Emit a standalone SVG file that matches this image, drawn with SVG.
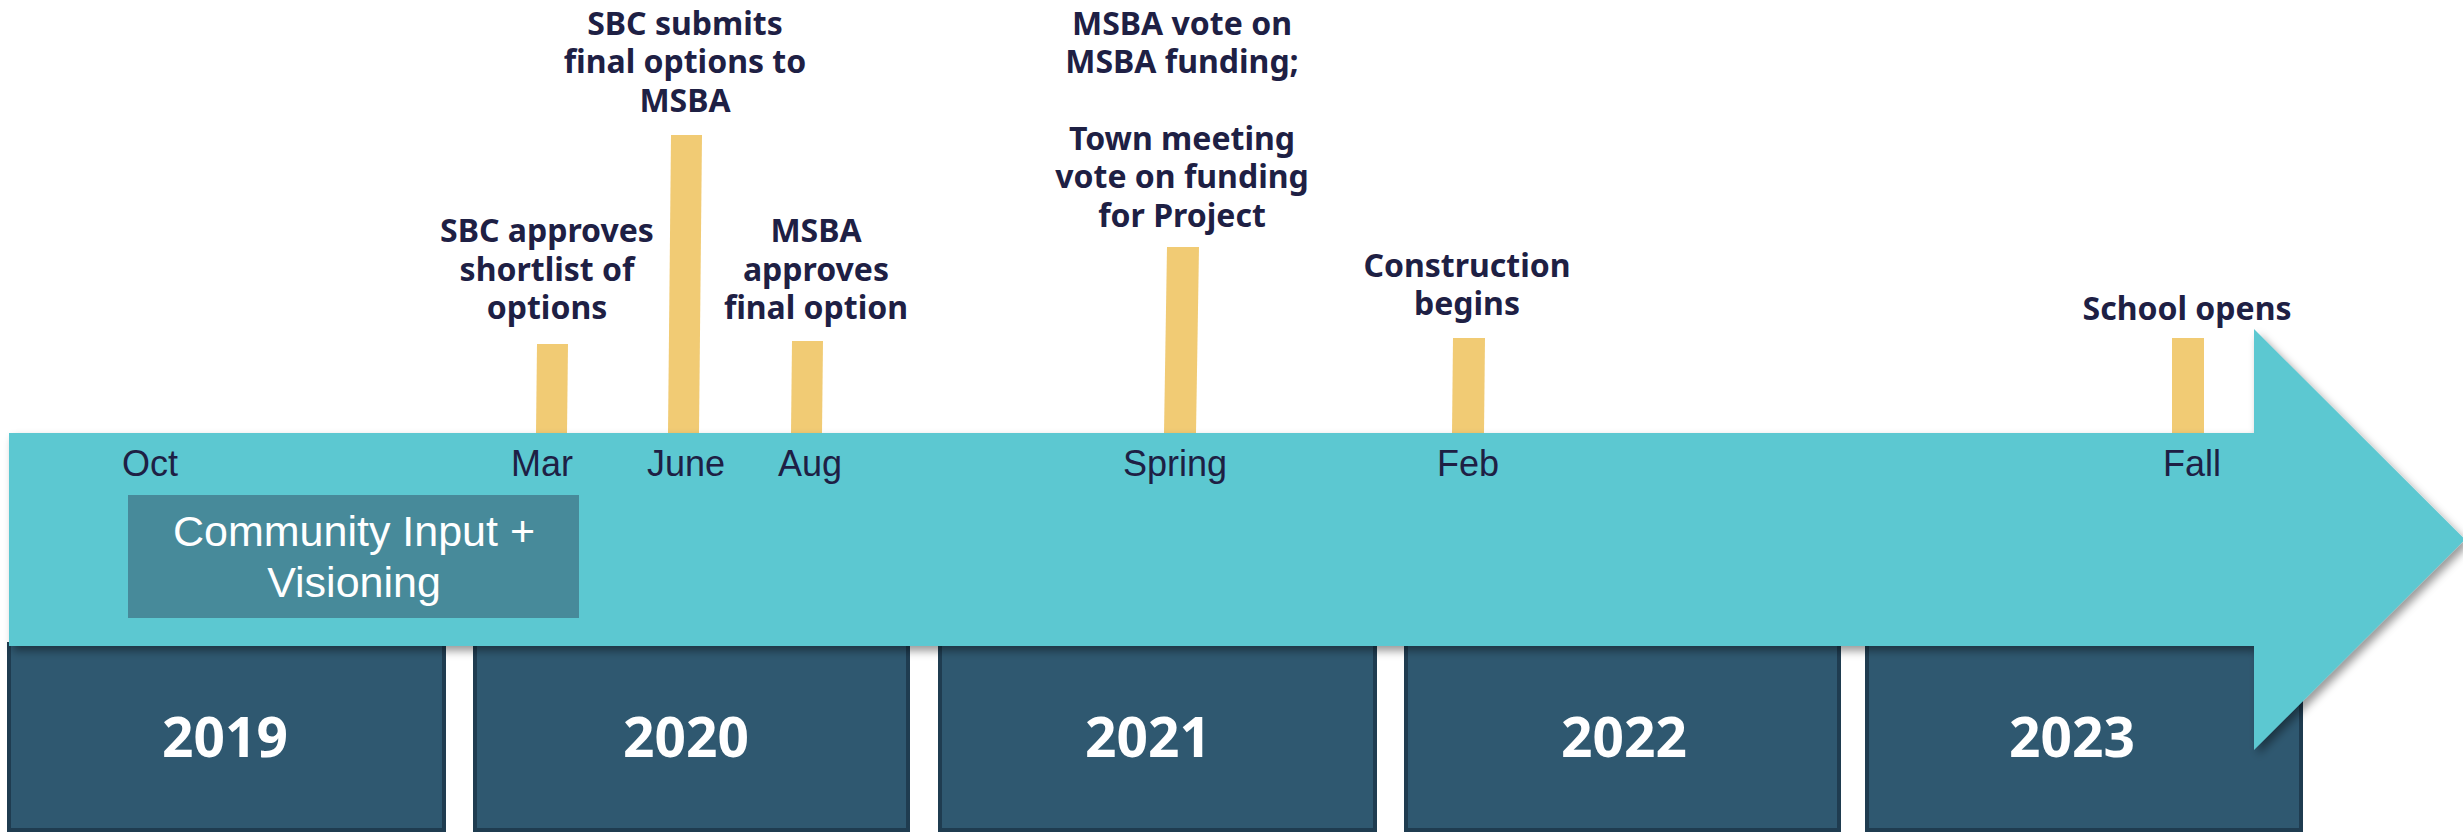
<svg xmlns="http://www.w3.org/2000/svg" width="2463" height="832" viewBox="0 0 2463 832">
  <defs>
    <filter id="shadow" x="-5%" y="-10%" width="115%" height="130%">
      <feDropShadow dx="4" dy="5" stdDeviation="4" flood-color="#000" flood-opacity="0.4"/>
    </filter>
    <style>
      .year rect { fill: #2F5870; stroke: #1F3C50; stroke-width: 4; }
      .year text { font-family: "Noto Sans", "Open Sans", sans-serif; font-weight: 700; font-size: 55px; fill: #FFFFFF; text-anchor: middle; }
      .month { font-family: "Liberation Sans", Arial, sans-serif; font-size: 36px; fill: #1E2044; text-anchor: middle; }
      .bar { fill: #F1CB74; }
      .event { font-family: "Noto Sans", "Open Sans", sans-serif; font-weight: 700; font-size: 32px; fill: #1E2044; text-anchor: middle; }
      .phase rect { fill: #478A9A; }
      .phase text { font-family: "Liberation Sans", Arial, sans-serif; font-size: 43px; fill: #FFFFFF; text-anchor: middle; }
    </style>
  </defs>
  <rect width="2463" height="832" fill="#FFFFFF"/>

  <g id="years">
    <g id="y2019" class="year"><rect x="9" y="644" width="435" height="186"/><text x="225" y="757">2019</text></g>
    <g id="y2020" class="year"><rect x="475" y="644" width="433" height="186"/><text x="686" y="757">2020</text></g>
    <g id="y2021" class="year"><rect x="940" y="644" width="435" height="186"/><text x="1148" y="757">2021</text></g>
    <g id="y2022" class="year"><rect x="1406" y="644" width="433" height="186"/><text x="1624" y="757">2022</text></g>
    <g id="y2023" class="year"><rect x="1867" y="644" width="434" height="186"/><text x="2072" y="757">2023</text></g>
  </g>

  <g id="bars">
    <polygon class="bar" points="536,433 567,433 568,344 537,344"/>
    <polygon class="bar" points="668,433 699,433 702,135 671,135"/>
    <polygon class="bar" points="791,433 822,433 823,341 792,341"/>
    <polygon class="bar" points="1164,433 1196,433 1199,247 1167,247"/>
    <polygon class="bar" points="1452,433 1484,433 1485,338 1453,338"/>
    <polygon class="bar" points="2172,433 2204,433 2204,338 2172,338"/>
  </g>

  <g id="timeline-arrow">
    <path d="M9,433 L2254,433 L2254,329 L2465,539.5 L2254,750 L2254,646 L9,646 Z" fill="#5CC8D1" filter="url(#shadow)"/>
  </g>

  <g id="months">
    <text class="month" x="150" y="476">Oct</text>
    <text class="month" x="542" y="476">Mar</text>
    <text class="month" x="686" y="476">June</text>
    <text class="month" x="810" y="476">Aug</text>
    <text class="month" x="1175" y="476">Spring</text>
    <text class="month" x="1468" y="476">Feb</text>
    <text class="month" x="2192" y="476">Fall</text>
  </g>

  <g id="phase-community" class="phase">
    <rect x="128" y="495" width="451" height="123"/>
    <text x="354" y="546">Community Input +<tspan x="354" y="597">Visioning</tspan></text>
  </g>

  <g id="event-mar">
    <text class="event" x="547" y="242">SBC approves<tspan x="547" y="281">shortlist of</tspan><tspan x="547" y="319">options</tspan></text>
  </g>
  <g id="event-june">
    <text class="event" x="685" y="35">SBC submits<tspan x="685" y="73">final options to</tspan><tspan x="685" y="112">MSBA</tspan></text>
  </g>
  <g id="event-aug">
    <text class="event" x="816" y="242">MSBA<tspan x="816" y="281">approves</tspan><tspan x="816" y="319">final option</tspan></text>
  </g>
  <g id="event-spring">
    <text class="event" x="1182" y="35">MSBA vote on<tspan x="1182" y="73">MSBA funding;</tspan><tspan x="1182" y="150">Town meeting</tspan><tspan x="1182" y="188">vote on funding</tspan><tspan x="1182" y="227">for Project</tspan></text>
  </g>
  <g id="event-feb">
    <text class="event" x="1467" y="277">Construction<tspan x="1467" y="315">begins</tspan></text>
  </g>
  <g id="event-fall">
    <text class="event" x="2187" y="320">School opens</text>
  </g>
</svg>
